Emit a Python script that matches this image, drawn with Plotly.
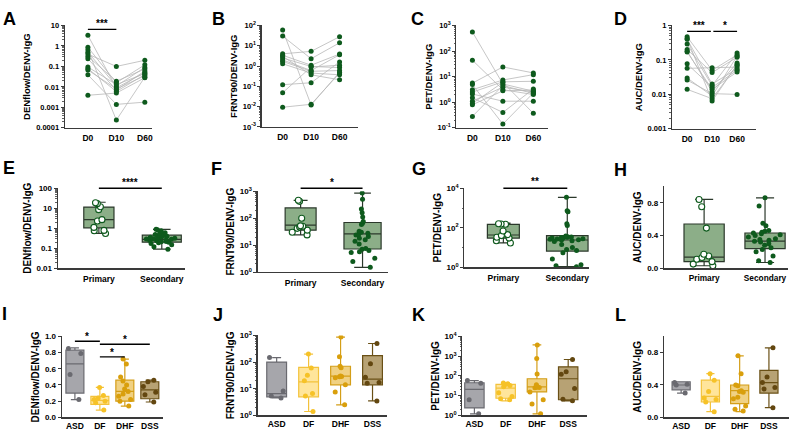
import plotly.graph_objects as go

W, H = 793, 436
FONT = "Liberation Sans"
AX = "#3a3a3a"

DAYS = ["D0", "D10", "D60"]
INF = ["Primary", "Secondary"]
SEV = ["ASD", "DF", "DHF", "DSS"]

# ---------- Row 1: paired subjects (same index = same subject) ----------
A_D0 = [3.3, 0.86, 0.65, 0.5, 0.4, 0.31, 0.24, 0.094, 0.078, 0.067, 0.039, 0.0039]
A_D10 = [0.009, 0.016, 0.00024, 0.011, 0.1, 0.019, 0.007, 0.013, 0.006, 0.008, 0.0014, 0.005]
A_D60 = [0.05, 0.12, 0.03, 0.09, 0.2, 0.075, 0.06, 0.045, 0.04, 0.035, 0.0018, 0.028]

B_D0 = [60, 30, 4, 3.4, 2.5, 1.7, 1.3, 0.12, 0.048, 0.0093, 3.0, 2.0]
B_D10 = [0.012, 2.3, 5.3, 1.1, 0.95, 0.55, 0.45, 0.15, 0.9, 0.013, 0.37, 0.6]
B_D60 = [0.5, 14, 28, 3.9, 0.84, 0.6, 0.37, 1.6, 1.1, 0.45, 0.21, 3.6]

C_D0 = [560, 44, 5.6, 4.9, 3.1, 2.5, 2.1, 1.5, 1.1, 0.9, 0.8, 0.28]
C_D10 = [5.2, 3.1, 24, 0.14, 7.4, 6.3, 1.1, 0.4, 3.9, 6.0, 2.8, 4.5]
C_D60 = [2.7, 2.0, 14, 2.3, 12, 6.6, 1.1, 3.3, 2.5, 0.37, 3.0, 2.2]

D_D0 = [0.47, 0.42, 0.29, 0.2, 0.18, 0.077, 0.057, 0.03, 0.026, 0.014, 0.4, 0.17]
D_D10 = [0.05, 0.0064, 0.018, 0.043, 0.012, 0.016, 0.059, 0.009, 0.0105, 0.0075, 0.02, 0.014]
D_D60 = [0.14, 0.074, 0.16, 0.12, 0.082, 0.05, 0.062, 0.13, 0.01, 0.07, 0.055, 0.045]

# ---------- Row 2: Primary vs Secondary ----------
E_primary = [19, 17, 12, 8.5, 2.7, 2.3, 1.1, 0.78, 0.75, 0.55]
E_secondary = [0.9, 0.85, 0.75, 0.6, 0.55, 0.5, 0.48, 0.45, 0.42, 0.4, 0.38, 0.36, 0.35,
               0.33, 0.32, 0.3, 0.29, 0.28, 0.27, 0.26, 0.25, 0.24, 0.22, 0.21, 0.2,
               0.19, 0.17, 0.15, 0.12, 0.09]
E_q1, E_med, E_q3, E_lo, E_hi = [1.05, 0.2], [2.7, 0.28], [11.5, 0.45], [0.55, 0.09], [20, 0.88]

F_primary = [460, 420, 100, 52, 47, 50, 42, 36, 30, 24]
F_secondary = [850, 500, 220, 160, 110, 75, 65, 58, 33, 30, 27.5, 26, 24, 21, 18, 16,
               14, 11, 7.5, 7, 6.3, 5.7, 5.3, 3.3, 2.5, 1.5]
F_q1, F_med, F_q3, F_lo, F_hi = [36, 7.2], [55, 26], [240, 69], [24, 1.5], [460, 850]

G_primary = [160, 150, 155, 68, 45, 40, 33, 30, 22, 17]
G_secondary = [3500, 720, 650, 160, 130, 38, 36, 35, 34, 33, 32, 30, 29, 28, 27, 26,
               25, 24, 22, 20, 14, 10, 8, 7, 5.4, 2.6, 1.35, 1.2, 1.07]
G_q1, G_med, G_q3, G_lo, G_hi = [30, 6.6], [43, 24], [148, 40], [17, 1.07], [170, 3500]

H_primary = [0.84, 0.75, 0.49, 0.17, 0.15, 0.13, 0.11, 0.08, 0.05, 0.03]
H_secondary = [0.86, 0.76, 0.55, 0.52, 0.46, 0.45, 0.44, 0.43, 0.42, 0.41, 0.40, 0.38,
               0.36, 0.35, 0.34, 0.33, 0.32, 0.3, 0.28, 0.25, 0.23, 0.2, 0.15, 0.09, 0.07]
H_q1, H_med, H_q3, H_lo, H_hi = [0.08, 0.24], [0.136, 0.33], [0.54, 0.43], [0.03, 0.07], [0.84, 0.86]

# ---------- Row 3: by severity ----------
I_ASD = [0.85, 0.79, 0.53, 0.22]
I_DF = [0.37, 0.27, 0.24, 0.22, 0.2, 0.18, 0.09]
I_DHF = [0.72, 0.66, 0.5, 0.45, 0.4, 0.35, 0.32, 0.29, 0.26, 0.22, 0.2, 0.14]
I_DSS = [0.46, 0.44, 0.38, 0.31, 0.28, 0.19]
I_q1, I_med, I_q3 = [0.30, 0.16, 0.2, 0.23], [0.66, 0.21, 0.32, 0.34], [0.83, 0.26, 0.46, 0.44]
I_lo, I_hi = [0.22, 0.09, 0.14, 0.19], [0.86, 0.37, 0.72, 0.46]

J_ASD = [148, 8.3, 5.3, 4.5]
J_DF = [200, 60, 32, 20, 6.6, 5.3, 1.4]
J_DHF = [870, 160, 70, 62, 30, 29, 28, 26, 14, 7.6, 2.5]
J_DSS = [500, 87, 27, 17, 16, 3.5]
J_q1, J_med, J_q3 = [5, 5, 14, 14], [6.6, 18, 30, 23], [100, 63, 70, 175]
J_lo, J_hi = [4.5, 1.4, 2.5, 3.5], [148, 200, 870, 500]

K_ASD = [58, 43, 6.2, 1.2]
K_DF = [44, 40, 37, 33, 28, 14, 9, 7, 6.2]
K_DHF = [3700, 760, 125, 36, 30, 28, 27, 26, 25, 15.5, 6.2, 3.8, 1.2]
K_DSS = [680, 165, 122, 23, 6.5, 5.5]
K_q1, K_med, K_q3 = [2.4, 7.4, 15.5, 6.2], [21, 24, 28, 72], [45, 37, 72, 290]
K_lo, K_hi = [1.2, 5.5, 1.2, 5.5], [58, 44, 3700, 680]

L_ASD = [0.43, 0.41, 0.40, 0.30]
L_DF = [0.54, 0.46, 0.32, 0.24, 0.22, 0.19, 0.07]
L_DHF = [0.76, 0.54, 0.4, 0.39, 0.33, 0.32, 0.31, 0.25, 0.23, 0.14, 0.1, 0.08]
L_DSS = [0.86, 0.5, 0.43, 0.37, 0.35, 0.12]
L_q1, L_med, L_q3 = [0.34, 0.19, 0.17, 0.30], [0.40, 0.26, 0.33, 0.43], [0.44, 0.46, 0.40, 0.58]
L_lo, L_hi = [0.30, 0.07, 0.07, 0.12], [0.44, 0.54, 0.76, 0.86]

# ---------- colours ----------
GREEN = "#0e5a1d"
GREEN_BOX = "rgba(120,160,115,0.85)"
GREEN_LINE = "#2b382b"
LINK = "#b8b8b8"
SEV_FILL = ["rgba(150,150,156,0.85)", "rgba(255,222,130,0.8)", "rgba(236,198,100,0.8)", "rgba(170,146,92,0.85)"]
SEV_LINE = ["#6a6a70", "#f3c23c", "#d49e18", "#6a5016"]
SEV_PT = ["#6a6a70", "#f6c228", "#d99f0c", "#634710"]

fig = go.Figure()


def sfx(n):
    return "" if n == 1 else str(n)


def tf(size):
    return dict(family=FONT, size=size, color="black", weight="bold")


def minor_log(lo, hi):
    return [m * 10 ** e for e in range(lo, hi) for m in range(2, 10)]


def setup(n, px, py, c0, dc, cats, ytitle, ytype, yrange, tickvals, ticktext,
          cat_size=8.5, tick_size=7.5, title_size=9.5, minor=None, standoff=2):
    xd = [px[0] / W, px[1] / W]
    yd = [1 - py[1] / H, 1 - py[0] / H]
    xr = [(px[0] - c0) / dc, (px[1] - c0) / dc]
    s = sfx(n)
    yax = dict(domain=yd, anchor="x" + s, type=ytype, range=yrange, showline=True,
               linecolor=AX, linewidth=1.3, ticks="outside", ticklen=3, tickwidth=1,
               tickcolor=AX, tickmode="array", tickvals=tickvals, ticktext=ticktext,
               showgrid=False, zeroline=False, tickfont=tf(tick_size),
               title=dict(text=ytitle, font=tf(title_size), standoff=3))
    if minor is not None:
        yax["minor"] = dict(tickmode="array", tickvals=minor, ticks="outside",
                            ticklen=1.5, tickwidth=0.8, tickcolor=AX, showgrid=False)
    fig.update_layout(**{
        "xaxis" + s: dict(domain=xd, anchor="y" + s, type="category",
                          categoryorder="array", categoryarray=cats, range=xr,
                          showline=True, linecolor=AX, linewidth=1.3, ticks="",
                          showgrid=False, zeroline=False, tickfont=tf(cat_size),
                          ticklabelstandoff=standoff),
        "yaxis" + s: yax,
    })


def paired(n, d0, d10, d60):
    lx, ly = [], []
    for a, b, c in zip(d0, d10, d60):
        lx += DAYS + [None]
        ly += [a, b, c, None]
    fig.add_trace(go.Scatter(x=lx, y=ly, mode="lines", line=dict(color=LINK, width=0.8),
                             xaxis="x" + sfx(n), yaxis="y" + sfx(n), hoverinfo="skip",
                             cliponaxis=False))
    fig.add_trace(go.Scatter(x=["D0"] * len(d0) + ["D10"] * len(d10) + ["D60"] * len(d60),
                             y=list(d0) + list(d10) + list(d60), mode="markers",
                             marker=dict(color=GREEN, size=5), cliponaxis=False,
                             xaxis="x" + sfx(n), yaxis="y" + sfx(n)))


def boxes(n, cats, q1, med, q3, lo, hi, pts, fills, lines, ptcols, open_flags, widths,
          psize=5):
    for i, c in enumerate(cats):
        fig.add_trace(go.Box(x=[c], q1=[q1[i]], median=[med[i]], q3=[q3[i]],
                             lowerfence=[lo[i]], upperfence=[hi[i]], boxpoints=False,
                             fillcolor=fills[i], line=dict(color=lines[i], width=1.2),
                             whiskerwidth=0.45, width=widths[i],
                             xaxis="x" + sfx(n), yaxis="y" + sfx(n)))
        if open_flags[i]:
            mk = dict(color="white", size=psize + 1, line=dict(color=ptcols[i], width=1.1))
        else:
            mk = dict(color=ptcols[i], size=psize, line=dict(width=0))
        fig.add_trace(go.Box(x=[c] * len(pts[i]), y=pts[i], boxpoints="all", jitter=0.85,
                             pointpos=0, fillcolor="rgba(0,0,0,0)",
                             line=dict(color="rgba(0,0,0,0)", width=0), whiskerwidth=0,
                             width=widths[i], marker=mk,
                             xaxis="x" + sfx(n), yaxis="y" + sfx(n)))


def sup(e):
    return "10<sup>%d</sup>" % e


# ---- Row 1 ----
setup(1, (65, 152), (20, 125), 88, 28.5, DAYS, "DENflow/DENV-IgG", "log", [-4, 1],
      [1e-4, 1e-3, 1e-2, 1e-1, 1, 10], ["0.0001", "0.001", "0.01", "0.1", "1", "10"],
      minor=minor_log(-4, 1))
paired(1, A_D0, A_D10, A_D60)

setup(2, (262, 358), (20, 124), 283, 28.5, DAYS, "FRNT90/DENV-IgG", "log", [-3, 2],
      [10 ** e for e in range(-3, 3)], [sup(e) for e in range(-3, 3)], minor=minor_log(-3, 2))
paired(2, B_D0, B_D10, B_D60)

setup(3, (457, 549), (20, 125), 473, 30.5, DAYS, "PET/DENV-IgG", "log", [-1, 3],
      [10 ** e for e in range(-1, 4)], [sup(e) for e in range(-1, 4)], minor=minor_log(-1, 3))
paired(3, C_D0, C_D10, C_D60)

setup(4, (673, 757), (20, 126), 688, 25, DAYS, "AUC/DENV-IgG", "log", [-3, 0],
      [1e-3, 1e-2, 1e-1, 1], ["0.001", "0.01", "0.1", "1"], minor=minor_log(-3, 0))
paired(4, D_D0, D_D10, D_D60)

# ---- Row 2 ----
G2 = [GREEN_BOX, GREEN_BOX]
L2 = [GREEN_LINE, GREEN_LINE]
P2 = [GREEN, GREEN]
O2 = [True, False]

setup(5, (58, 185), (187, 269), 99, 63, INF, "DENflow/DENV-IgG", "log", [-2, 2],
      [0.01, 0.1, 1, 10, 100], ["0.01", "0.1", "1", "10", "100"], cat_size=8.5, tick_size=8,
      title_size=10, minor=minor_log(-2, 2))
boxes(5, INF, E_q1, E_med, E_q3, E_lo, E_hi, [E_primary, E_secondary], G2, L2, P2, O2,
      widths=[0.48, 0.62])

setup(6, (258, 388), (190, 273), 301, 62, INF, "FRNT90/DENV-IgG", "log", [0, 3],
      [1, 10, 100, 1000], [sup(e) for e in range(0, 4)], cat_size=8.5, tick_size=8,
      title_size=10, minor=minor_log(0, 3))
boxes(6, INF, F_q1, F_med, F_q3, F_lo, F_hi, [F_primary, F_secondary], G2, L2, P2, O2,
      widths=[0.5, 0.6])

setup(7, (465, 590), (187, 268), 504, 64, INF, "PET/DENV-IgG", "log", [0, 4],
      [1, 100, 10000], [sup(0), sup(2), sup(4)], cat_size=8.5, tick_size=8,
      title_size=10, minor=[10, 1000])
boxes(7, INF, G_q1, G_med, G_q3, G_lo, G_hi, [G_primary, G_secondary], G2, L2, P2, O2,
      widths=[0.5, 0.65])

setup(8, (665, 789), (185, 269), 705, 61, INF, "AUC/DENV-IgG", "linear", [0, 1.0],
      [0, 0.4, 0.8], ["0.0", "0.4", "0.8"], cat_size=8.3, tick_size=8, title_size=10)
boxes(8, INF, H_q1, H_med, H_q3, H_lo, H_hi, [H_primary, H_secondary], G2, L2, P2, O2,
      widths=[0.66, 0.66])

# ---- Row 3 ----
O3 = [False] * 4
setup(9, (62, 163), (339, 422), 75, 25, SEV, "DENflow/DENV-IgG", "linear", [0, 1.0],
      [0, 0.2, 0.4, 0.6, 0.8, 1.0], ["0.0", "0.2", "0.4", "0.6", "0.8", "1.0"],
      cat_size=8.5, tick_size=8, title_size=10, standoff=0)
boxes(9, SEV, I_q1, I_med, I_q3, I_lo, I_hi, [I_ASD, I_DF, I_DHF, I_DSS],
      SEV_FILL, SEV_LINE, SEV_PT, O3, widths=[0.72] * 4, psize=5)

setup(10, (258, 387), (338, 420), 277, 32, SEV, "FRNT90/DENV-IgG", "log", [0, 3],
      [1, 10, 100, 1000], [sup(e) for e in range(0, 4)], cat_size=8.5, tick_size=8,
      title_size=10, minor=minor_log(0, 3), standoff=0)
boxes(10, SEV, J_q1, J_med, J_q3, J_lo, J_hi, [J_ASD, J_DF, J_DHF, J_DSS],
      SEV_FILL, SEV_LINE, SEV_PT, O3, widths=[0.62] * 4, psize=5)

setup(11, (463, 588), (339, 420), 475, 31.3, SEV, "PET/DENV-IgG", "log", [0, 4],
      [1, 10, 100, 1000, 10000], [sup(e) for e in range(0, 5)], cat_size=8.5, tick_size=8,
      title_size=10, minor=minor_log(0, 4), standoff=0)
boxes(11, SEV, K_q1, K_med, K_q3, K_lo, K_hi, [K_ASD, K_DF, K_DHF, K_DSS],
      SEV_FILL, SEV_LINE, SEV_PT, O3, widths=[0.62] * 4, psize=5)

setup(12, (665, 790), (339, 422), 682, 29.3, SEV, "AUC/DENV-IgG", "linear", [0, 1.0],
      [0, 0.4, 0.8], ["0.0", "0.4", "0.8"], cat_size=8.5, tick_size=8, title_size=10,
      standoff=0)
boxes(12, SEV, L_q1, L_med, L_q3, L_lo, L_hi, [L_ASD, L_DF, L_DHF, L_DSS],
      SEV_FILL, SEV_LINE, SEV_PT, O3, widths=[0.62] * 4, psize=5)

# ---- significance bars ----
SIG = [  # (axis, from, to, bar_y_px, text, text_y_px)
    (1, 0, 1, 24, "***", 18),
    (4, 0, 0.95, 26, "***", 20),
    (4, 1.05, 2, 26, "*", 20),
    (5, 0, 1, 187, "****", 181),
    (6, 0, 1, 187, "*", 181),
    (7, 0, 1, 187, "**", 180),
    (9, 0, 1, 344, "*", 339),
    (9, 1, 3, 347, "*", 342),
    (9, 1, 2, 360, "*", 355),
]
shapes, annos = [], []
for n, a, b, yb, txt, yt in SIG:
    shapes.append(dict(type="line", xref="x" + sfx(n), yref="paper", x0=a, x1=b,
                       y0=1 - yb / H, y1=1 - yb / H, line=dict(color="black", width=1.4)))
    annos.append(dict(xref="x" + sfx(n), yref="paper", x=(a + b) / 2, y=1 - yt / H,
                      text=txt, showarrow=False, font=tf(10), yanchor="middle"))

LETTERS = [("A", 10, 13), ("B", 219, 13), ("C", 418, 13), ("D", 621, 13),
           ("E", 9, 166), ("F", 217, 167), ("G", 420, 167), ("H", 621, 168),
           ("I", 5, 316), ("J", 218, 317), ("K", 419, 317), ("L", 621, 317)]
for t, x, y in LETTERS:
    annos.append(dict(xref="paper", yref="paper", x=x / W, y=1 - y / H, text=t,
                      showarrow=False, font=tf(18), xanchor="center", yanchor="middle"))

fig.update_layout(width=W, height=H, margin=dict(l=0, r=0, t=0, b=0),
                  paper_bgcolor="white", plot_bgcolor="white", showlegend=False,
                  boxmode="overlay", shapes=shapes, annotations=annos, hovermode=False)

fig.write_html("out.html", config={"displayModeBar": False, "staticPlot": True},
               post_script="document.body.style.margin='0';document.body.style.overflow='hidden';")
